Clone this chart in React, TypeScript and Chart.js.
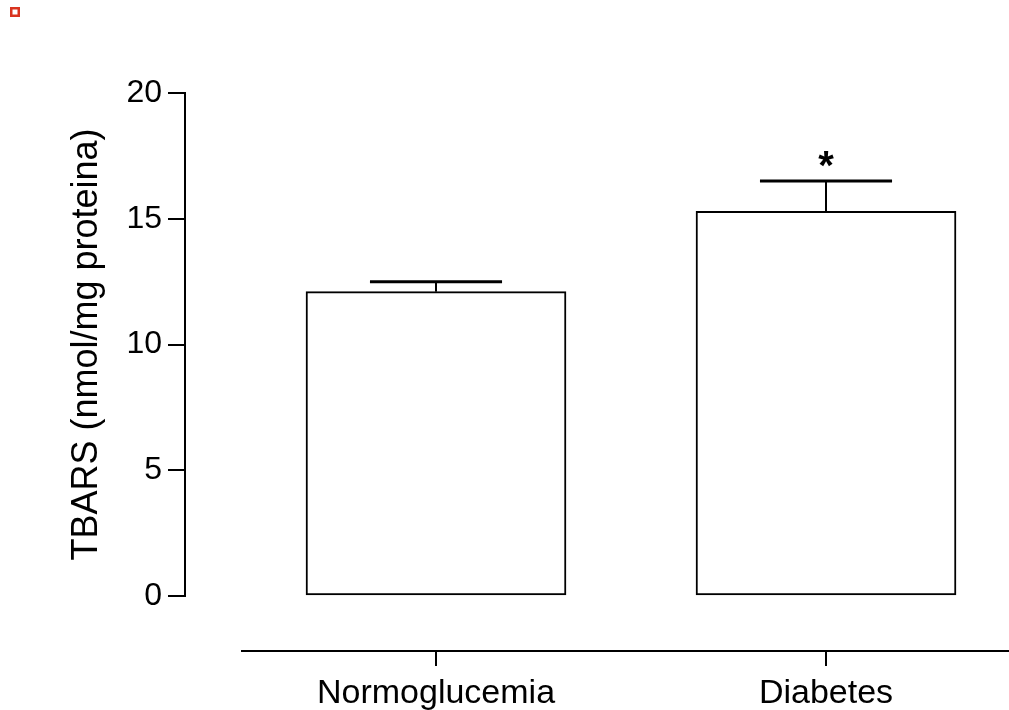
import React, { useEffect, useRef } from "react";
import { Chart, registerables } from "chart.js";

Chart.register(...registerables);

const categories = ["Normoglucemia", "Diabetes"];
const means = [12.1, 15.3];
const errorTops = [12.5, 16.5];
const significance = ["", "*"];
const yTicks = [0, 5, 10, 15, 20];
const yTitle = "TBARS (nmol/mg proteina)";

const FONT = "'Liberation Sans', Arial, Helvetica, sans-serif";

const decorPlugin = {
  id: "decor",
  afterDatasetsDraw(chart: any) {
    const ctx = chart.ctx;
    const xs = chart.scales.x;
    const ys = chart.scales.y;
    const area = chart.chartArea;
    const meta = chart.getDatasetMeta(0);
    ctx.save();
    // error bars + significance
    meta.data.forEach((el: any, i: number) => {
      const x = el.x;
      const yBar = el.y;
      const yTop = ys.getPixelForValue(errorTops[i]);
      const half = el.width * 0.254;
      ctx.strokeStyle = "#000";
      ctx.lineWidth = 2;
      ctx.beginPath();
      ctx.moveTo(x, yBar);
      ctx.lineTo(x, yTop);
      ctx.stroke();
      ctx.lineWidth = 3;
      ctx.beginPath();
      ctx.moveTo(x - half, yTop);
      ctx.lineTo(x + half, yTop);
      ctx.stroke();
      if (significance[i]) {
        ctx.fillStyle = "#000";
        ctx.font = `bold 40px ${FONT}`;
        ctx.textAlign = "center";
        ctx.textBaseline = "alphabetic";
        ctx.fillText(significance[i], x, yTop - 2);
      }
    });
    // detached x axis
    const axisY = area.bottom + 55;
    ctx.strokeStyle = "#000";
    ctx.lineWidth = 2;
    ctx.beginPath();
    ctx.moveTo(xs.getPixelForValue(-0.5), axisY);
    ctx.lineTo(chart.width, axisY);
    ctx.stroke();
    categories.forEach((_, i) => {
      const x = xs.getPixelForValue(i);
      ctx.beginPath();
      ctx.moveTo(x, axisY);
      ctx.lineTo(x, axisY + 15);
      ctx.stroke();
    });
    // small red marker top-left
    ctx.strokeStyle = "#d9341f";
    ctx.lineWidth = 2.5;
    ctx.strokeRect(11.25, 8.25, 7.5, 7.5);
    ctx.restore();
  },
};

export default function App() {
  const ref = useRef<HTMLCanvasElement | null>(null);
  useEffect(() => {
    if (!ref.current) return;
    const chart = new Chart(ref.current, {
      type: "bar",
      data: {
        datasets: [
          {
            data: categories.map((_, i) => ({ x: i, y: means[i] })),
            backgroundColor: "#ffffff",
            borderColor: "#000000",
            borderWidth: 2,
            borderSkipped: false,
            barThickness: 260,
          } as any,
        ],
      },
      options: {
        responsive: false,
        animation: false,
        layout: { padding: { left: 12, top: 93, right: 0, bottom: 0 } },
        plugins: { legend: { display: false }, tooltip: { enabled: false } },
        scales: {
          x: {
            type: "linear",
            offset: false,
            min: -0.6436,
            max: 1.4692,
            afterBuildTicks: (s: any) => {
              s.ticks = categories.map((_, i) => ({ value: i }));
            },
            afterFit: (s: any) => {
              s.height = 114;
            },
            ticks: {
              callback: (v: any) => categories[v] ?? "",
              font: { family: FONT, size: 34 },
              color: "#000",
              padding: 77,
              autoSkip: false,
              maxRotation: 0,
            },
            grid: { display: false, drawTicks: false, offset: false },
            border: { display: false },
          },
          y: {
            min: 0,
            max: 20,
            afterBuildTicks: (s: any) => {
              s.ticks = yTicks.map((v) => ({ value: v }));
            },
            afterFit: (s: any) => {
              s.width = 173;
            },
            ticks: {
              font: { family: FONT, size: 32 },
              color: "#000",
              padding: 6,
            },
            grid: {
              drawOnChartArea: false,
              drawTicks: true,
              tickLength: 17,
              color: "#000",
              lineWidth: 2,
            },
            border: { display: true, color: "#000", width: 2 },
            title: {
              display: true,
              text: yTitle,
              font: { family: FONT, size: 36 },
              color: "#000",
              padding: { top: 53, bottom: 21 },
            },
          },
        },
      } as any,
      plugins: [decorPlugin],
    });
    return () => chart.destroy();
  }, []);
  return (
    <div style={{ position: "absolute", left: 0, top: 0, width: 1009, height: 710 }}>
      <canvas ref={ref} width={1009} height={710} style={{ display: "block", width: 1009, height: 710 }} />
    </div>
  );
}
